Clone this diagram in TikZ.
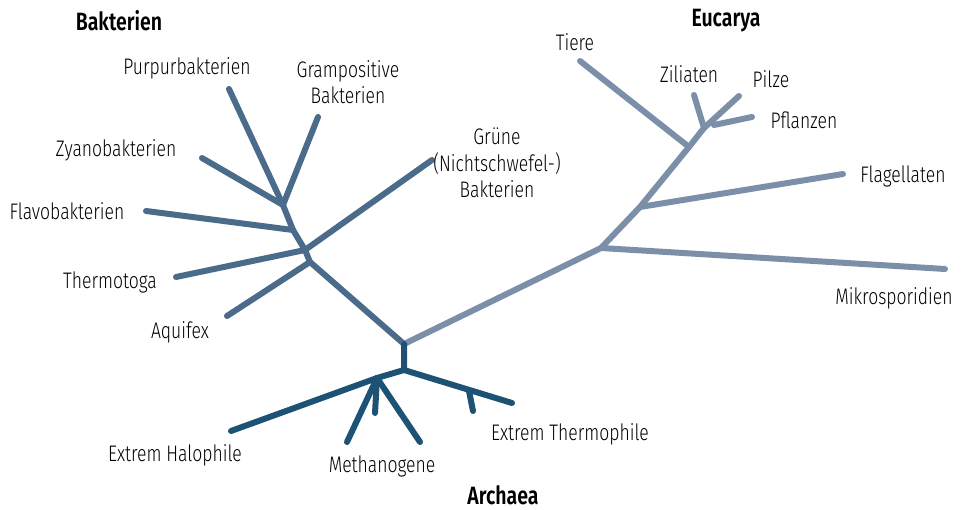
\documentclass[tikz,border=0pt]{standalone}
\usepackage{fontspec}
\setmainfont[FakeStretch=0.78,UprightFont={* Light},BoldFont={* SemiBold}]{Fira Sans}
\definecolor{bact}{HTML}{4B6B8B}
\definecolor{euc}{HTML}{7B8FA9}
\definecolor{arch}{HTML}{1D5274}
\begin{document}
\begin{tikzpicture}[x=1pt,y=-1pt,
  br/.style={line width=6pt,line cap=round,line join=round},
  lbl/.style={font=\fontsize{22.5}{26.5}\selectfont,inner sep=0pt,align=center},
  ttl/.style={font=\fontsize{25}{29}\selectfont\bfseries,inner sep=0pt}]
\useasboundingbox (0,0) rectangle (967,510);
% junctions
\coordinate (R) at (404,344);
\coordinate (A0) at (404,370);
\coordinate (B1) at (310,262);
\coordinate (B2) at (305,250);
\coordinate (B3) at (293,230);
\coordinate (B4) at (283,205);
\coordinate (E1) at (601,248);
\coordinate (E2) at (640,207);
\coordinate (E3) at (689,147);
\coordinate (E4) at (704,128);
\coordinate (E5) at (714,125);
\coordinate (A1) at (377,378);
\coordinate (A2) at (469,391);
% ends
\coordinate (tPurp) at (229,89);
\coordinate (tGram) at (318,117);
\coordinate (tZyan) at (202,158);
\coordinate (tFlav) at (146,211);
\coordinate (tGrun) at (432,160);
\coordinate (tTher) at (176,277);
\coordinate (tAqui) at (227,316);
\coordinate (tMikr) at (945,269);
\coordinate (tFlag) at (843,174);
\coordinate (tTier) at (580,61);
\coordinate (tZili) at (694,95);
\coordinate (tPilz) at (739,96);
\coordinate (tPfla) at (752,117);
\coordinate (tHalo) at (231,431);
\coordinate (tMetL) at (347,442);
\coordinate (tMetR) at (420,442);
\coordinate (tMetM) at (375,413);
\coordinate (tXThe) at (512,403);
\coordinate (tXTk) at (473,411);
% bacteria
\draw[br,bact] (R) -- (B1) -- (B2) -- (B3) -- (B4) -- (tPurp);
\draw[br,bact] (B4) -- (tGram);
\draw[br,bact] (B4) -- (tZyan);
\draw[br,bact] (B3) -- (tFlav);
\draw[br,bact] (B2) -- (tGrun);
\draw[br,bact] (B2) -- (tTher);
\draw[br,bact] (B1) -- (tAqui);
% eucarya
\draw[br,euc] (R) -- (E1) -- (E2) -- (E3) -- (E4) -- (tPilz);
\draw[br,euc] (E1) -- (tMikr);
\draw[br,euc] (E2) -- (tFlag);
\draw[br,euc] (E3) -- (tTier);
\draw[br,euc] (E4) -- (tZili);
\draw[br,euc] (E5) -- (tPfla);
% archaea
\draw[br,arch] (R) -- (A0) -- (A1) -- (tHalo);
\draw[br,arch] (A1) -- (tMetL);
\draw[br,arch] (A1) -- (tMetR);
\draw[br,arch] (A1) -- (tMetM);
\draw[br,arch] (A0) -- (tXThe);
\draw[br,arch] (A2) -- (tXTk);
% labels
\node[ttl] (hB) at (119,21) {Bakterien};
\node[ttl] (hE) at (726,21) {Eucarya};
\node[ttl] (hA) at (503,495) {Archaea};
\node[lbl] (lPurp) at (187,68) {Purpurbakterien};
\node[lbl] (lGram) at (348,82) {Grampositive\\Bakterien};
\node[lbl] (lZyan) at (116,150) {Zyanobakterien};
\node[lbl] (lFlav) at (67,211) {Flavobakterien};
\node[lbl] (lTher) at (110,282) {Thermotoga};
\node[lbl] (lAqui) at (180,332) {Aquifex};
\node[lbl] (lGrun) at (497,163) {Grüne\\(Nichtschwefel-)\\Bakterien};
\node[lbl] (lTier) at (575,42) {Tiere};
\node[lbl] (lZili) at (689,74) {Ziliaten};
\node[lbl] (lPilz) at (771,79) {Pilze};
\node[lbl] (lPfla) at (804,120) {Pflanzen};
\node[lbl] (lFlag) at (903,176) {Flagellaten};
\node[lbl] (lMikr) at (894,298) {Mikrosporidien};
\node[lbl] (lHalo) at (175,455) {Extrem Halophile};
\node[lbl] (lMeth) at (382,466) {Methanogene};
\node[lbl] (lXThe) at (570,434) {Extrem Thermophile};
\end{tikzpicture}
\end{document}
